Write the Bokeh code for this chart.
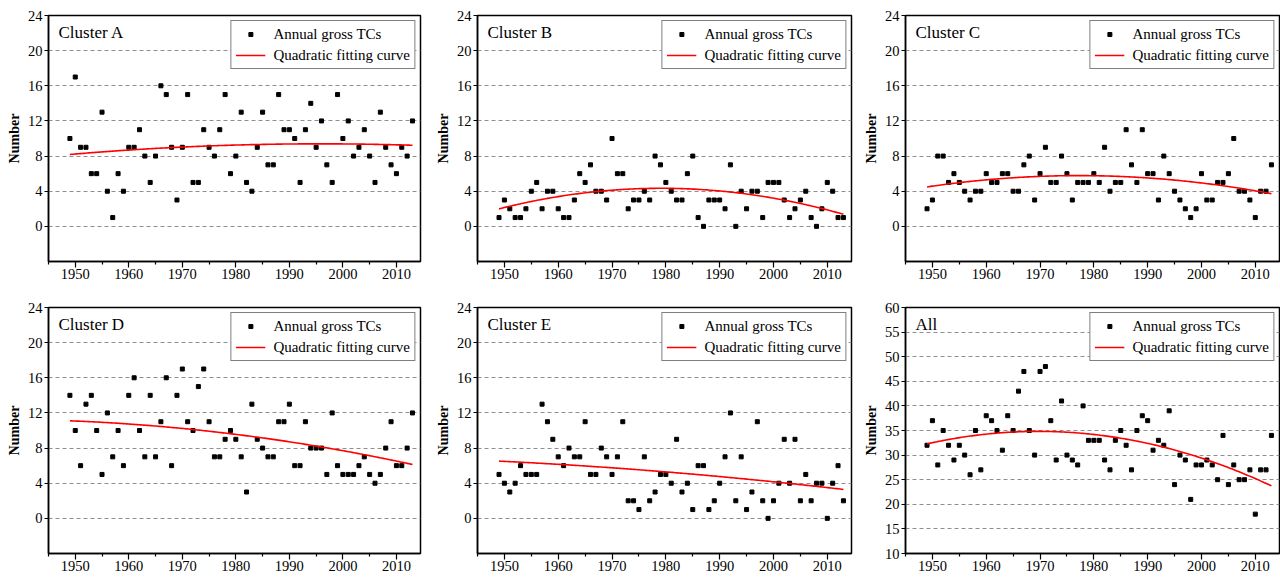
import numpy as np
from bokeh.plotting import figure
from bokeh.layouts import column, row
from bokeh.models import Range1d, FixedTicker, Label, Legend, LegendItem
from bokeh.embed import file_html
from bokeh.resources import INLINE

# ---------------- data ----------------
years = list(range(1949, 2014))

cluster_a = [10, 17, 9, 9, 6, 6, 13, 4, 1, 6, 4, 9, 9, 11, 8, 5, 8, 16, 15, 9, 3,
             9, 15, 5, 5, 11, 9, 8, 11, 15, 6, 8, 13, 5, 4, 9, 13, 7, 7, 15, 11,
             11, 10, 5, 11, 14, 9, 12, 7, 5, 15, 10, 12, 8, 9, 11, 8, 5, 13, 9, 7,
             6, 9, 8, 12]
cluster_b = [1, 3, 2, 1, 1, 2, 4, 5, 2, 4, 4, 2, 1, 1, 3, 6, 5, 7, 4, 4, 3,
             10, 6, 6, 2, 3, 3, 4, 3, 8, 7, 5, 4, 3, 3, 6, 8, 1, 0, 3, 3,
             3, 2, 7, 0, 4, 2, 4, 4, 1, 5, 5, 5, 3, 1, 2, 3, 4, 1, 0, 2,
             5, 4, 1, 1]
cluster_c = [2, 3, 8, 8, 5, 6, 5, 4, 3, 4, 4, 6, 5, 5, 6, 6, 4, 4, 7, 8, 3,
             6, 9, 5, 5, 8, 6, 3, 5, 5, 5, 6, 5, 9, 4, 5, 5, 11, 7, 5, 11,
             6, 6, 3, 8, 6, 4, 3, 2, 1, 2, 6, 3, 3, 5, 5, 6, 10, 4, 4, 3,
             1, 4, 4, 7]
cluster_d = [14, 10, 6, 13, 14, 10, 5, 12, 7, 10, 6, 14, 16, 10, 7, 14, 7, 11, 16, 6, 14,
             17, 11, 10, 15, 17, 11, 7, 7, 9, 10, 9, 7, 3, 13, 9, 8, 7, 7, 11, 11,
             13, 6, 6, 11, 8, 8, 8, 5, 12, 6, 5, 5, 5, 6, 7, 5, 4, 5, 8, 11,
             6, 6, 8, 12]
cluster_e = [5, 4, 3, 4, 6, 5, 5, 5, 13, 11, 9, 7, 6, 8, 7, 7, 11, 5, 5, 8, 7,
             5, 7, 11, 2, 2, 1, 7, 2, 3, 5, 5, 4, 9, 3, 4, 1, 6, 6, 1, 2,
             4, 7, 12, 2, 7, 1, 3, 11, 2, 0, 2, 4, 9, 4, 9, 2, 5, 2, 4, 4,
             0, 4, 6, 2]
all_clusters = [32, 37, 28, 35, 32, 29, 32, 30, 26, 35, 27, 38, 37, 35, 31, 38, 35, 43, 47, 35, 30,
                47, 48, 37, 29, 41, 30, 29, 28, 40, 33, 33, 33, 29, 27, 33, 35, 32, 27, 35, 38,
                37, 31, 33, 32, 39, 24, 30, 29, 21, 28, 28, 29, 28, 25, 34, 24, 28, 25, 25, 27,
                18, 27, 27, 34]

panel_names = ["Cluster A", "Cluster B", "Cluster C", "Cluster D", "Cluster E", "All"]
panel_values = [cluster_a, cluster_b, cluster_c, cluster_d, cluster_e, all_clusters]

x_ticks = [1950, 1960, 1970, 1980, 1990, 2000, 2010]
x_minor_ticks = [1945, 1955, 1965, 1975, 1985, 1995, 2005]
y_ticks_cluster = [0, 4, 8, 12, 16, 20, 24]
y_ticks_all = [10, 15, 20, 25, 30, 35, 40, 45, 50, 55, 60]

legend_labels = ["Annual gross TCs", "Quadratic fitting curve"]
y_label = "Number"

FONT = "Liberation Serif"
X0, X1 = 1945.0, 2014.5


def make_panel(name, values, y0, y1, yticks, width, height, bl, br, bt, bb):
    frame_w = width - bl - br
    frame_h = height - bt - bb
    p = figure(width=width, height=height,
               x_range=Range1d(X0, X1), y_range=Range1d(y0, y1),
               output_backend="svg", toolbar_location=None,
               min_border_left=bl, min_border_right=br,
               min_border_top=bt, min_border_bottom=bb)
    p.background_fill_color = "white"
    p.border_fill_color = "white"
    p.outline_line_color = "black"
    p.outline_line_width = 1.5

    # axes
    p.xaxis.ticker = FixedTicker(ticks=x_ticks, minor_ticks=x_minor_ticks)
    p.yaxis.ticker = FixedTicker(ticks=yticks)
    for ax in (p.xaxis, p.yaxis):
        ax.axis_line_color = "black"
        ax.axis_line_width = 1.5
        ax.major_tick_line_color = "black"
        ax.major_tick_line_width = 1.2
        ax.major_tick_in = 0
        ax.major_label_text_font = FONT
        ax.major_label_text_font_size = "14.5px"
        ax.major_label_text_color = "black"
    p.xaxis.major_tick_out = 6
    p.xaxis.minor_tick_out = 3
    p.xaxis.minor_tick_in = 0
    p.xaxis.minor_tick_line_color = "black"
    p.xaxis.minor_tick_line_width = 1.2
    p.xaxis.major_label_standoff = 1
    p.yaxis.major_tick_out = 4
    p.yaxis.minor_tick_line_color = None
    p.yaxis.major_label_standoff = 2
    p.yaxis.axis_label = y_label
    p.yaxis.axis_label_text_font = FONT
    p.yaxis.axis_label_text_font_style = "bold"
    p.yaxis.axis_label_text_font_size = "14px"
    p.yaxis.axis_label_text_color = "black"
    p.yaxis.axis_label_standoff = 3

    # grid
    p.xgrid.visible = False
    p.ygrid.ticker = FixedTicker(ticks=yticks)
    p.ygrid.grid_line_color = "#8f8f8f"
    p.ygrid.grid_line_dash = "4 3"
    p.ygrid.grid_line_width = 1

    # data
    r_pts = p.scatter(years, values, marker="square", size=4,
                      fill_color="black", line_color="black")
    coef = np.polyfit(np.array(years, dtype=float), np.array(values, dtype=float), 2)
    xf = np.linspace(years[0], years[-1], 200)
    yf = np.polyval(coef, xf)
    r_fit = p.line(xf, yf, line_color="#ff0000", line_width=1.6)

    legend = Legend(items=[LegendItem(label=legend_labels[0], renderers=[r_pts]),
                           LegendItem(label=legend_labels[1], renderers=[r_fit])],
                    location="top_right", margin=5, padding=4, spacing=3,
                    glyph_width=30, glyph_height=10, label_height=18,
                    label_standoff=8, label_text_font=FONT,
                    label_text_font_size="15px", label_text_color="black",
                    border_line_color="black", border_line_width=1,
                    background_fill_color="white", background_fill_alpha=1.0)
    p.add_layout(legend)

    # panel name inside the frame, top-left
    lx = X0 + 10 * (X1 - X0) / frame_w
    ly = y1 - 7.5 * (y1 - y0) / frame_h
    p.add_layout(Label(x=lx, y=ly, text=name, text_baseline="top", text_align="left",
                       text_font=FONT, text_font_size="17px", text_color="black"))
    return p


col_specs = [(428, 48, 8), (429, 49, 6), (423, 48, 1)]
row_specs = [(293, 15, 32), (284, 14, 24)]

figs = []
for i, (name, vals) in enumerate(zip(panel_names, panel_values)):
    r, c = divmod(i, 3)
    w, bl, br = col_specs[c]
    h, bt, bb = row_specs[r]
    if name == "All":
        y0, y1, yt = 10, 60, y_ticks_all
    else:
        y0, y1, yt = -4, 24, y_ticks_cluster
    figs.append(make_panel(name, vals, y0, y1, yt, w, h, bl, br, bt, bb))

layout = column(row(figs[0], figs[1], figs[2], spacing=0),
                row(figs[3], figs[4], figs[5], spacing=0), spacing=0)

open("out.html", "w").write(file_html(layout, INLINE))
